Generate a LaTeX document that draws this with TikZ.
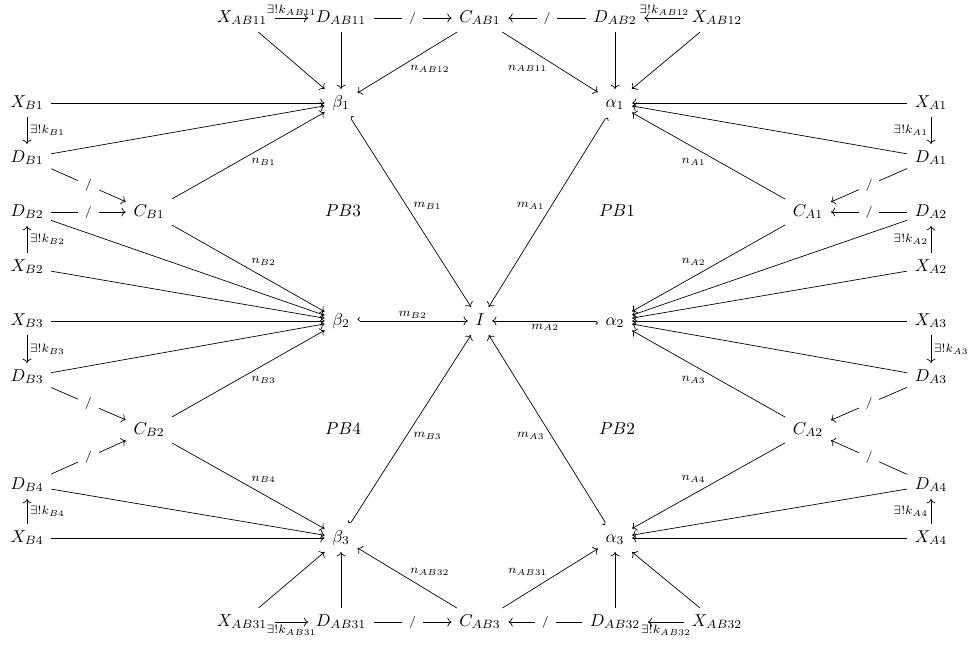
\documentclass[tikz,border=0pt]{standalone}
\usetikzlibrary{arrows.meta}
\begin{document}
\begin{tikzpicture}[x=0.5814pt,y=-0.5814pt,
  ob/.style={inner xsep=1ex,inner ysep=0.85ex,text height=1.55ex,text depth=0.45ex},
  ar/.style={-{To}},
  hk/.style={{Hooks[right]}-{To}},
  lb/.style={font=\scriptsize,inner sep=1.5pt,auto},
  lbs/.style={lb,swap},
  sl/.style={font=\scriptsize,fill=white,inner sep=4pt,pos=0.5}]
\useasboundingbox (0,0) rectangle (972,644);
% top row
\node[ob] (XAB11) at (242,18) {$X_{AB11}$};
\node[ob] (DAB11) at (341,18) {$D_{AB11}$};
\node[ob] (CAB1)  at (480,18) {$C_{AB1}$};
\node[ob] (DAB2)  at (615,18) {$D_{AB2}$};
\node[ob] (XAB12) at (717,18) {$X_{AB12}$};
% row 1
\node[ob] (XB1) at (27,103) {$X_{B1}$};
\node[ob] (b1) at (341,103) {$\beta_1$};
\node[ob] (a1) at (615,103) {$\alpha_1$};
\node[ob] (XA1) at (931,103) {$X_{A1}$};
% row 2
\node[ob] (DB1) at (27,158) {$D_{B1}$};
\node[ob] (DA1) at (931,158) {$D_{A1}$};
% row 3
\node[ob] (DB2) at (27,212) {$D_{B2}$};
\node[ob] (CB1) at (149,212) {$C_{B1}$};
\node[ob] (PB3) at (343,212) {$PB3$};
\node[ob] (PB1) at (617,212) {$PB1$};
\node[ob] (CA1) at (808,212) {$C_{A1}$};
\node[ob] (DA2) at (931,212) {$D_{A2}$};
% row 4
\node[ob] (XB2) at (27,267) {$X_{B2}$};
\node[ob] (XA2) at (931,267) {$X_{A2}$};
% row 5
\node[ob] (XB3) at (27,321) {$X_{B3}$};
\node[ob] (b2) at (341,321) {$\beta_2$};
\node[ob] (I) at (480,321) {$I$};
\node[ob] (a2) at (615,321) {$\alpha_2$};
\node[ob] (XA3) at (931,321) {$X_{A3}$};
% row 6
\node[ob] (DB3) at (27,377) {$D_{B3}$};
\node[ob] (DA3) at (931,377) {$D_{A3}$};
% row 7
\node[ob] (CB2) at (149,430) {$C_{B2}$};
\node[ob] (PB4) at (343,430) {$PB4$};
\node[ob] (PB2) at (617,430) {$PB2$};
\node[ob] (CA2) at (808,430) {$C_{A2}$};
% row 8
\node[ob] (DB4) at (27,485) {$D_{B4}$};
\node[ob] (DA4) at (931,485) {$D_{A4}$};
% row 9
\node[ob] (XB4) at (27,538) {$X_{B4}$};
\node[ob] (b3) at (341,538) {$\beta_3$};
\node[ob] (a3) at (615,538) {$\alpha_3$};
\node[ob] (XA4) at (931,538) {$X_{A4}$};
% bottom row
\node[ob] (XAB31) at (242,622) {$X_{AB31}$};
\node[ob] (DAB31) at (341,622) {$D_{AB31}$};
\node[ob] (CAB3)  at (480,622) {$C_{AB3}$};
\node[ob] (DAB32) at (615,622) {$D_{AB32}$};
\node[ob] (XAB32) at (717,622) {$X_{AB32}$};
% top edges
\draw[ar] (XAB11) -- node[lb] {$\exists!k_{AB11}$} (DAB11);
\draw[ar] (DAB11) -- node[sl] {$/$} (CAB1);
\draw[ar] (DAB2) -- node[sl] {$/$} (CAB1);
\draw[ar] (XAB12) -- node[lbs] {$\exists!k_{AB12}$} (DAB2);
\draw[ar] (XAB11) -- (b1);
\draw[ar] (DAB11) -- (b1);
\draw[ar] (CAB1) -- node[lb] {$n_{AB12}$} (b1);
\draw[ar] (CAB1) -- node[lbs] {$n_{AB11}$} (a1);
\draw[ar] (DAB2) -- (a1);
\draw[ar] (XAB12) -- (a1);
% left edges
\draw[ar] (XB1) -- (b1);
\draw[ar] (XB1) -- node[lb] {$\exists!k_{B1}$} (DB1);
\draw[ar] (DB1) -- (b1);
\draw[ar] (DB1) -- node[sl] {$/$} (CB1);
\draw[ar] (DB2) -- node[sl] {$/$} (CB1);
\draw[ar] (CB1) -- node[lbs] {$n_{B1}$} (b1);
\draw[ar] (XB2) -- node[lbs] {$\exists!k_{B2}$} (DB2);
\draw[ar] (DB2) -- (b2);
\draw[ar] (CB1) -- node[lb] {$n_{B2}$} (b2);
\draw[ar] (XB2) -- (b2);
\draw[ar] (XB3) -- (b2);
\draw[ar] (XB3) -- node[lb] {$\exists!k_{B3}$} (DB3);
\draw[ar] (DB3) -- (b2);
\draw[ar] (DB3) -- node[sl] {$/$} (CB2);
\draw[ar] (CB2) -- node[lbs] {$n_{B3}$} (b2);
\draw[ar] (DB4) -- node[sl] {$/$} (CB2);
\draw[ar] (CB2) -- node[lb] {$n_{B4}$} (b3);
\draw[ar] (DB4) -- (b3);
\draw[ar] (XB4) -- node[lbs] {$\exists!k_{B4}$} (DB4);
\draw[ar] (XB4) -- (b3);
% bottom edges
\draw[ar] (XAB31) -- (b3);
\draw[ar] (DAB31) -- (b3);
\draw[ar] (CAB3) -- node[lbs] {$n_{AB32}$} (b3);
\draw[ar] (XAB31) -- node[lbs] {$\exists!k_{AB31}$} (DAB31);
\draw[ar] (DAB31) -- node[sl] {$/$} (CAB3);
\draw[ar] (DAB32) -- node[sl] {$/$} (CAB3);
\draw[ar] (XAB32) -- node[lb] {$\exists!k_{AB32}$} (DAB32);
\draw[ar] (CAB3) -- node[lb] {$n_{AB31}$} (a3);
\draw[ar] (DAB32) -- (a3);
\draw[ar] (XAB32) -- (a3);
% right edges
\draw[ar] (XA1) -- (a1);
\draw[ar] (XA1) -- node[lbs] {$\exists!k_{A1}$} (DA1);
\draw[ar] (DA1) -- (a1);
\draw[ar] (DA1) -- node[sl] {$/$} (CA1);
\draw[ar] (DA2) -- node[sl] {$/$} (CA1);
\draw[ar] (CA1) -- node[lb] {$n_{A1}$} (a1);
\draw[ar] (XA2) -- node[lb] {$\exists!k_{A2}$} (DA2);
\draw[ar] (DA2) -- (a2);
\draw[ar] (CA1) -- node[lbs] {$n_{A2}$} (a2);
\draw[ar] (XA2) -- (a2);
\draw[ar] (XA3) -- (a2);
\draw[ar] (XA3) -- node[lb] {$\exists!k_{A3}$} (DA3);
\draw[ar] (DA3) -- (a2);
\draw[ar] (DA3) -- node[sl] {$/$} (CA2);
\draw[ar] (CA2) -- node[lb] {$n_{A3}$} (a2);
\draw[ar] (DA4) -- node[sl] {$/$} (CA2);
\draw[ar] (CA2) -- node[lbs] {$n_{A4}$} (a3);
\draw[ar] (DA4) -- (a3);
\draw[ar] (XA4) -- node[lb] {$\exists!k_{A4}$} (DA4);
\draw[ar] (XA4) -- (a3);
% centre
\draw[hk] (b1) -- node[lb] {$m_{B1}$} (I);
\draw[hk] (a1) -- node[lbs] {$m_{A1}$} (I);
\draw[hk] (b2) -- node[lb] {$m_{B2}$} (I);
\draw[hk] (a2) -- node[lb] {$m_{A2}$} (I);
\draw[hk] (b3) -- node[lbs] {$m_{B3}$} (I);
\draw[hk] (a3) -- node[lb] {$m_{A3}$} (I);
\end{tikzpicture}
\end{document}
